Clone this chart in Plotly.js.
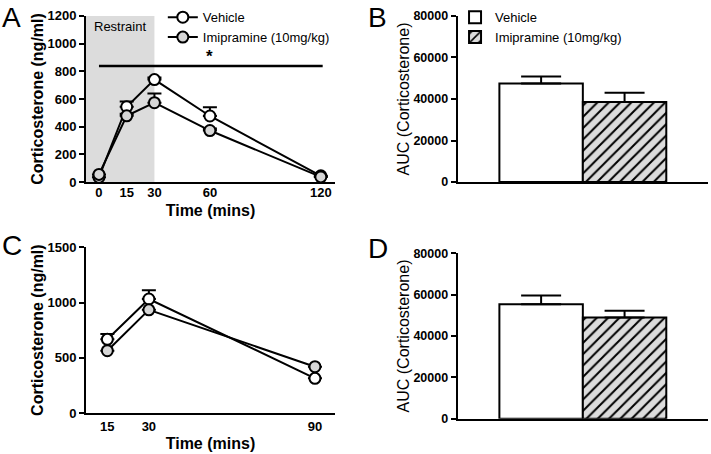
<!DOCTYPE html>
<html>
<head>
<meta charset="utf-8">
<script src="https://cdn.plot.ly/plotly-3.0.1.min.js"></script>
<style>html,body{margin:0;padding:0;background:#fff}#chart{width:711px;height:454px}</style>
</head>
<body>
<div id="chart"></div>
<script>
// ---- Panel A: time course (restraint) ----
const timeA = [0, 15, 30, 60, 120];
const vehA = [35, 544, 740, 477, 45];
const vehAErr = [0, 38, 15, 64, 0];
const impA = [55, 478, 573, 372, 37];
const impAErr = [0, 15, 67, 15, 0];
const tickA = [0, 15, 30, 60, 120];

// ---- Panel B: AUC ----
const groups = ["Vehicle", "Imipramine (10mg/kg)"];
const aucB = [47500, 38600];
const aucBErr = [3300, 4400];

// ---- Panel C: time course ----
const timeC = [15, 30, 90];
const vehC = [667, 1032, 314];
const vehCErr = [48, 79, 0];
const impC = [564, 934, 419];
const impCErr = [0, 0, 0];

// ---- Panel D: AUC ----
const aucD = [55400, 49000];
const aucDErr = [4200, 3200];

const FONT = "Liberation Sans, Arial, sans-serif";
const white = "#ffffff", gray = "#d6d6d6";

function lineTrace(x, y, err, fill, name, xa, ya, legend, show) {
  return {
    type: "scatter", mode: "lines+markers", x: x, y: y, name: name,
    xaxis: xa, yaxis: ya, legend: legend, showlegend: show,
    line: {color: "#000", width: 2},
    marker: {size: 11, color: fill, line: {color: "#000", width: 2}},
    error_y: {type: "data", symmetric: false, array: err,
              arrayminus: err.map(() => 0), color: "#000", thickness: 2, width: 7}
  };
}
function barTrace(i, vals, errs, xa, ya, show) {
  const hatched = i === 1;
  return {
    type: "bar", x: [i], y: [vals[i]], name: groups[i], xaxis: xa, yaxis: ya,
    legend: "legend2", showlegend: show, width: 1,
    marker: {color: hatched ? "#dcdcdc" : "#ffffff", line: {color: "#000", width: 2},
             pattern: hatched ? {shape: "/", fgcolor: "#000", bgcolor: "#dcdcdc", size: 8, solidity: 0.25} : {shape: ""}},
    error_y: {type: "data", symmetric: false, array: [errs[i]], arrayminus: [0],
              color: "#000", thickness: 2, width: 20}
  };
}

const data = [
  lineTrace(timeA, vehA, vehAErr, white, "Vehicle", "x", "y", "legend", true),
  lineTrace(timeA, impA, impAErr, gray, "Imipramine (10mg/kg)", "x", "y", "legend", true),
  barTrace(0, aucB, aucBErr, "x2", "y2", true),
  barTrace(1, aucB, aucBErr, "x2", "y2", true),
  lineTrace(timeC, vehC, vehCErr, white, "Vehicle", "x3", "y3", "legend", false),
  lineTrace(timeC, impC, impCErr, gray, "Imipramine (10mg/kg)", "x3", "y3", "legend", false),
  barTrace(0, aucD, aucDErr, "x4", "y4", false),
  barTrace(1, aucD, aucDErr, "x4", "y4", false)
];

const tickFontBig = {family: FONT, size: 13, color: "#000", weight: "bold"};
const tickFontSm = {family: FONT, size: 12.5, color: "#000", weight: "bold"};
function yax(domain, range, dtick, font, title, bold, anchor, standoff) {
  return {
    domain: domain, range: range, dtick: dtick, anchor: anchor, tickformat: "d",
    showline: true, linecolor: "#000", linewidth: 2, showgrid: false, zeroline: false,
    ticks: "outside", ticklen: 5, tickwidth: 2, tickcolor: "#000", tickfont: font,
    title: {text: title, font: {family: FONT, size: 16, color: "#000", weight: bold ? "bold" : "normal"}, standoff: standoff},
    fixedrange: true
  };
}
function xaxLine(domain, range, tickvals, anchor, lblOff, titleOff) {
  return {
    domain: domain, range: range, anchor: anchor, tickvals: tickvals,
    ticktext: tickvals.map(String), ticklabelstandoff: lblOff,
    showline: true, linecolor: "#000", linewidth: 2, showgrid: false, zeroline: false,
    ticks: "", tickfont: tickFontBig,
    title: {text: "Time (mins)", font: {family: FONT, size: 16, color: "#000", weight: "bold"}, standoff: titleOff},
    fixedrange: true
  };
}
function xaxBar(domain, anchor) {
  return {
    domain: domain, range: [-1, 2], anchor: anchor, showticklabels: false,
    showline: true, linecolor: "#000", linewidth: 2, showgrid: false, zeroline: false,
    ticks: "", fixedrange: true
  };
}

const layout = {
  width: 711, height: 454,
  margin: {l: 0, r: 0, t: 0, b: 0},
  paper_bgcolor: "#fff", plot_bgcolor: "rgba(0,0,0,0)",
  font: {family: FONT, color: "#000"},
  barmode: "overlay", bargap: 0,
  xaxis: xaxLine([0.121, 0.471], [-7, 127.6], tickA, "y", -3, 6),
  yaxis: yax([0.599, 0.965], [0, 1200], 200, tickFontBig, "Corticosterone (ng/ml)", true, "x", 0),
  xaxis2: xaxBar([0.6437, 0.9958], "y2"),
  yaxis2: yax([0.599, 0.965], [0, 80000], 20000, tickFontSm, "AUC (Corticosterone)", false, "x2", 0),
  xaxis3: xaxLine([0.121, 0.471], [7.3, 97.2], timeC, "y3", 0, 5),
  yaxis3: yax([0.0903, 0.4553], [0, 1500], 500, tickFontBig, "Corticosterone (ng/ml)", true, "x3", 0),
  xaxis4: xaxBar([0.6437, 0.9958], "y4"),
  yaxis4: yax([0.0778, 0.4421], [0, 80000], 20000, tickFontSm, "AUC (Corticosterone)", false, "x4", 0),
  legend: {x: 0.229, y: 0.995, xanchor: "left", yanchor: "top", bgcolor: "rgba(0,0,0,0)",
           font: {family: FONT, size: 13, color: "#000"}, tracegroupgap: 0, itemwidth: 30},
  legend2: {x: 0.64, y: 0.995, xanchor: "left", yanchor: "top", bgcolor: "rgba(0,0,0,0)",
            font: {family: FONT, size: 13, color: "#000"}, itemwidth: 30},
  shapes: [
    {type: "rect", xref: "x", yref: "y", x0: -7, x1: 30, y0: 0, y1: 1200,
     fillcolor: "#dcdcdc", line: {width: 0}, layer: "below"},
    {type: "line", xref: "x", yref: "y", x0: 0, x1: 121, y0: 839, y1: 839,
     line: {color: "#000", width: 2.5}}
  ],
  annotations: [
    {text: "Restraint", xref: "x", yref: "y", x: 11.5, y: 1120, showarrow: false,
     font: {family: FONT, size: 13, color: "#000"}},
    {text: "*", xref: "x", yref: "y", x: 60, y: 905, showarrow: false,
     font: {family: FONT, size: 17, color: "#000", weight: "bold"}},
    {text: "A", xref: "paper", yref: "paper", x: 0.0, y: 1.0, xanchor: "left", yanchor: "top", showarrow: false,
     font: {family: FONT, size: 28, color: "#000"}},
    {text: "B", xref: "paper", yref: "paper", x: 366/711, y: 1.0, xanchor: "left", yanchor: "top", showarrow: false,
     font: {family: FONT, size: 28, color: "#000"}},
    {text: "C", xref: "paper", yref: "paper", x: 0.0, y: 1 - 228/454, xanchor: "left", yanchor: "top", showarrow: false,
     font: {family: FONT, size: 28, color: "#000"}},
    {text: "D", xref: "paper", yref: "paper", x: 366/711, y: 1 - 231/454, xanchor: "left", yanchor: "top", showarrow: false,
     font: {family: FONT, size: 28, color: "#000"}}
  ]
};

Plotly.newPlot("chart", data, layout, {displayModeBar: false, staticPlot: true});
</script>
</body>
</html>
